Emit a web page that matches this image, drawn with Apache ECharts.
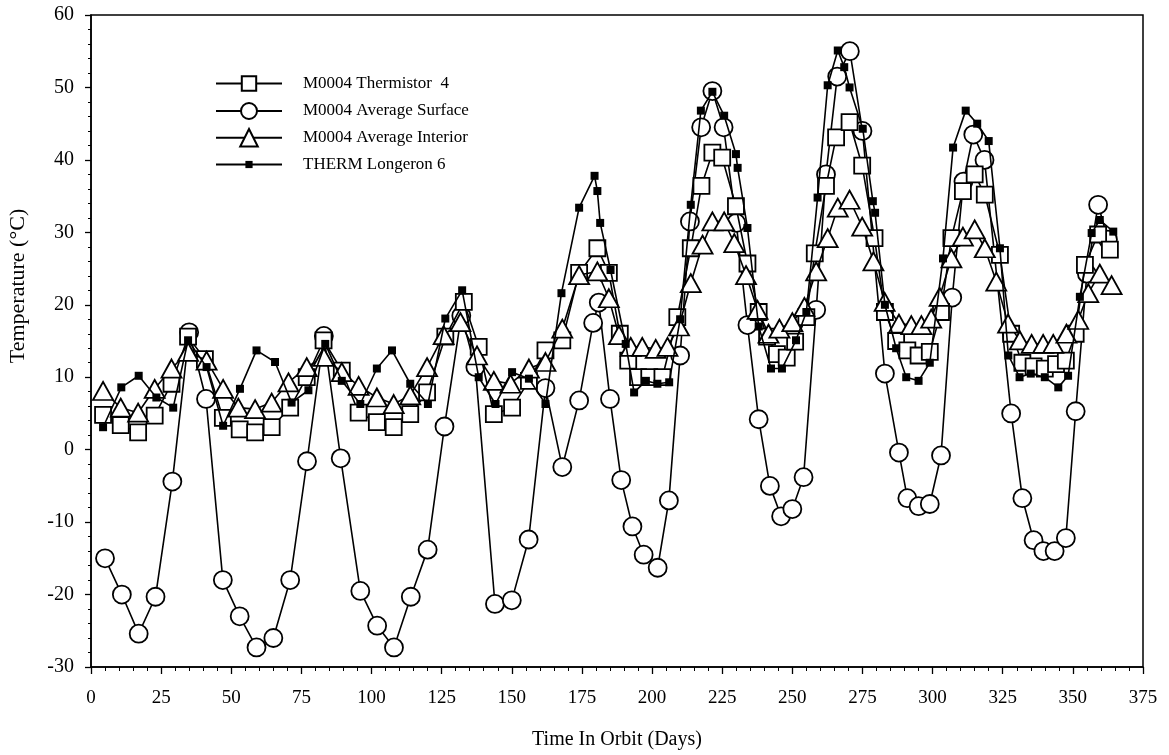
<!DOCTYPE html>
<html>
<head>
<meta charset="utf-8">
<script src="https://cdn.jsdelivr.net/npm/echarts@6/dist/echarts.min.js"></script>
<style>
  html, body { margin: 0; padding: 0; background: #fff; }
  #chart { width: 1169px; height: 755px; }
</style>
</head>
<body>
<div id="chart"></div>
<script>
// M0004 Thermistor 4 (open squares)
const thermDays = [4.3, 10.6, 16.8, 22.7, 28.7, 34.6, 40.6, 47, 53, 58.5, 64.4, 71, 76.9, 82.9, 89.4, 95.4, 101.9, 107.9, 113.8, 119.8, 126.3, 132.9, 138.2, 143.6, 150.1, 156.1, 162, 168, 174, 180.5, 184.6, 188.5, 191.5, 195, 199, 203.7, 209, 213.8, 217.6, 221.5, 225, 229.9, 234, 238, 241, 244.5, 248, 251, 255, 258, 262, 265.6, 270.4, 274.9, 279.3, 283, 287, 291, 295, 299, 303, 306.7, 310.8, 315, 318.6, 324, 328, 332, 336, 340, 344, 347.5, 351, 354.3, 359, 363.2];
const thermTemps = [4.8, 3.4, 2.4, 4.7, 9.1, 15.6, 12.5, 4.4, 2.8, 2.4, 3.1, 5.8, 10, 15.1, 10.9, 5.1, 3.8, 3.1, 4.9, 7.9, 15.6, 20.4, 14.2, 4.9, 5.8, 9.5, 13.7, 15.1, 24.4, 27.8, 24.4, 16, 12.3, 10, 10, 10, 18.3, 27.8, 36.4, 41, 40.3, 33.6, 25.7, 19, 15.6, 13.2, 12.7, 14.9, 18.3, 27.1, 36.4, 43.1, 45.2, 39.2, 29.2, 19, 15, 13.7, 13, 13.5, 19, 29.2, 35.7, 38, 35.2, 26.9, 16, 12, 11.5, 11.2, 11.8, 12.3, 16, 25.5, 29.7, 27.6];

// M0004 Average Surface (open circles)
const surfDays = [5, 11, 17, 23, 29, 35, 41, 47, 53, 59, 65, 71, 77, 83, 89, 96, 102, 108, 114, 120, 126, 132, 137, 144, 150, 156, 162, 168, 174, 179, 181, 185, 189, 193, 197, 202, 206, 210, 213.5, 217.5, 221.5, 225.5, 230, 234, 238, 242, 246, 250, 254, 258.5, 262, 266, 270.5, 275, 283, 288, 291, 295, 299, 303, 307, 311, 314.5, 318.5, 328, 332, 336, 339.5, 343.5, 347.5, 351, 355, 359, 362.5];
const surfTemps = [-15, -20, -25.4, -20.3, -4.4, 16.2, 7, -18, -23, -27.3, -26, -18, -1.6, 15.7, -1.2, -19.5, -24.3, -27.3, -20.3, -13.8, 3.2, 18.5, 11.4, -21.3, -20.8, -12.4, 8.5, -2.4, 6.8, 17.5, 20.3, 7, -4.2, -10.6, -14.5, -16.3, -7, 13, 31.5, 44.5, 49.5, 44.5, 31.3, 17.2, 4.2, -5, -9.2, -8.2, -3.8, 19.3, 38, 51.5, 55, 44, 10.5, -0.4, -6.7, -7.8, -7.5, -0.8, 21, 37, 43.5, 40, 5, -6.7, -12.5, -14, -14, -12.2, 5.3, 24.3, 33.8, 29];

// M0004 Average Interior (open triangles)
const intDays = [4.3, 10.6, 16.8, 22.7, 28.7, 34.6, 41.2, 47.1, 52.5, 58.5, 64.4, 70.4, 76.9, 82.9, 89.4, 95.4, 101.9, 107.9, 113.8, 119.8, 125.7, 131.7, 137.6, 143.6, 149.5, 156.1, 162, 168, 174, 180.5, 184.6, 188.2, 192.4, 196.5, 201.3, 205.5, 209.6, 213.8, 218, 221.5, 225.7, 229.3, 233.5, 237.6, 241.5, 245.4, 250, 254.3, 258.5, 262.6, 266.2, 270.4, 274.9, 278.9, 282.9, 288, 292.4, 296, 299.5, 302.5, 306.7, 310.8, 315, 318.6, 322.7, 326.9, 331.1, 335.3, 339.4, 343, 347.7, 351.9, 355.5, 359.6, 363.8];
const intTemps = [8.1, 5.8, 5.1, 8.4, 11.2, 13.5, 12.3, 8.4, 5.8, 5.6, 6.5, 9.3, 11.4, 12.8, 10.7, 8.8, 7.2, 6.3, 7.5, 11.4, 15.8, 17.6, 13, 9.5, 9.1, 11.2, 12.1, 16.7, 24.1, 24.6, 20.9, 15.8, 14.2, 14.2, 13.9, 14.2, 17, 23, 28.3, 31.5, 31.5, 28.5, 24.1, 19.3, 16, 16.7, 17.6, 19.7, 24.6, 29.2, 33.4, 34.5, 30.8, 26, 20.4, 17.4, 17.2, 17.2, 18.1, 21.1, 26.4, 29.4, 30.4, 27.8, 23.2, 17.4, 15.1, 14.6, 14.6, 14.6, 16, 17.9, 21.6, 24.3, 22.7];

// THERM Longeron 6 (small filled squares)
const longDays = [4.3, 10.8, 17, 23.3, 29.3, 34.6, 41.2, 47.1, 53.1, 59, 65.6, 71.5, 77.5, 83.5, 89.4, 96, 101.9, 107.3, 113.8, 120.1, 126.3, 132.3, 138.2, 144.2, 150.1, 156.1, 162, 167.7, 174, 179.5, 180.5, 181.5, 185.2, 190.6, 193.6, 197.8, 201.9, 206.1, 210, 213.8, 217.4, 221.5, 225.7, 229.9, 230.5, 234, 238, 242.4, 246.3, 251.3, 255, 259, 262.6, 266.2, 268.5, 270.4, 275.1, 278.7, 279.5, 283, 287, 290.6, 295, 299, 303.7, 307.3, 311.8, 315.9, 320, 324, 327, 331, 335, 340, 344.8, 348.3, 352.5, 356.7, 359.6, 364.4];
const longTemps = [3.1, 8.6, 10.2, 7.2, 5.8, 15.1, 11.4, 3.3, 8.4, 13.7, 12.1, 6.5, 8.2, 14.6, 9.5, 6.3, 11.2, 13.7, 9.1, 6.3, 18.1, 22, 10, 6.3, 10.7, 9.8, 6.3, 21.6, 33.4, 37.8, 35.7, 31.3, 24.8, 14.6, 7.9, 9.5, 9.1, 9.3, 18, 33.8, 46.8, 49.4, 46.1, 40.8, 38.9, 30.6, 17, 11.2, 11.2, 15.1, 19, 34.8, 50.3, 55.1, 52.8, 50, 44.3, 34.3, 32.7, 20, 14, 10, 9.5, 12, 26.4, 41.7, 46.8, 45, 42.6, 27.8, 13, 10, 10.5, 10, 8.6, 10.2, 21.1, 29.9, 31.7, 30.1];

const seriesNames = ['M0004 Thermistor  4', 'M0004 Average Surface', 'M0004 Average Interior', 'THERM Longeron 6'];

function pairs(days, temps) {
  return days.map((d, i) => [d, temps[i]]);
}

const font = '"Liberation Serif", "Times New Roman", serif';
const openMark = { color: '#fff', borderColor: '#000', borderWidth: 1.8 };
const lineStyle = { color: '#000', width: 1.6 };

// one legend box per row so each icon can keep its own marker size
function legendRow(name, h, top) {
  return {
    orient: 'vertical',
    left: 215,
    top: top,
    padding: 0,
    itemWidth: 66,
    itemHeight: h,
    data: [name],
    selectedMode: false,
    textStyle: { fontFamily: font, fontSize: 17, color: '#000', padding: [0, 0, 0, 16] }
  };
}

const chart = echarts.init(document.getElementById('chart'));
chart.setOption({
  animation: false,
  backgroundColor: '#fff',
  textStyle: { fontFamily: font, color: '#000' },
  grid: {
    left: 91, right: 26, top: 15, bottom: 88,
    outerBoundsMode: 'none',
    containLabel: false,
    show: true, borderColor: '#000', borderWidth: 1.5, backgroundColor: 'transparent'
  },
  legend: [
    legendRow(seriesNames[0], 18, 75),
    legendRow(seriesNames[1], 20, 102),
    legendRow(seriesNames[2], 22, 128),
    legendRow(seriesNames[3], 9, 156)
  ],
  xAxis: {
    type: 'value',
    min: 0, max: 375, interval: 25,
    name: 'Time In Orbit (Days)',
    nameLocation: 'middle',
    nameGap: 63,
    nameTextStyle: { fontFamily: font, fontSize: 20, color: '#000' },
    axisLine: { show: true, onZero: false, lineStyle: { color: '#000', width: 1.5 } },
    axisTick: { show: true, length: 7, lineStyle: { color: '#000', width: 1.3 } },
    minorTick: { show: true, splitNumber: 5, length: 4, lineStyle: { color: '#000', width: 1 } },
    axisLabel: { fontFamily: font, fontSize: 19, color: '#000', margin: 22 },
    splitLine: { show: false }
  },
  yAxis: {
    type: 'value',
    min: -30, max: 60, interval: 10,
    name: 'Temperature (°C)',
    nameLocation: 'middle',
    nameGap: 62,
    nameRotate: 90,
    nameTextStyle: { fontFamily: font, fontSize: 22, color: '#000', padding: [0, 0, 0, 110] },
    axisLine: { show: true, onZero: false, lineStyle: { color: '#000', width: 1.5 } },
    axisTick: { show: true, length: 6, lineStyle: { color: '#000', width: 1.3 } },
    minorTick: { show: true, splitNumber: 5, length: 3, lineStyle: { color: '#000', width: 1 } },
    axisLabel: { fontFamily: font, fontSize: 20, color: '#000', margin: 17 },
    splitLine: { show: false }
  },
  series: [
    {
      name: seriesNames[0],
      type: 'line',
      z: 3,
      data: pairs(thermDays, thermTemps),
      symbol: 'rect',
      symbolSize: 16,
      showAllSymbol: true,
      lineStyle: lineStyle,
      itemStyle: openMark
    },
    {
      name: seriesNames[1],
      type: 'line',
      z: 2,
      data: pairs(surfDays, surfTemps),
      symbol: 'circle',
      symbolSize: 18,
      showAllSymbol: true,
      lineStyle: lineStyle,
      itemStyle: openMark
    },
    {
      name: seriesNames[2],
      type: 'line',
      z: 4,
      data: pairs(intDays, intTemps),
      symbol: 'triangle',
      symbolSize: [20, 18],
      showAllSymbol: true,
      lineStyle: lineStyle,
      itemStyle: openMark
    },
    {
      name: seriesNames[3],
      type: 'line',
      z: 5,
      data: pairs(longDays, longTemps),
      symbol: 'rect',
      symbolSize: 8,
      showAllSymbol: true,
      lineStyle: lineStyle,
      itemStyle: { color: '#000', borderColor: '#000', borderWidth: 0 }
    }
  ]
});
</script>
</body>
</html>
